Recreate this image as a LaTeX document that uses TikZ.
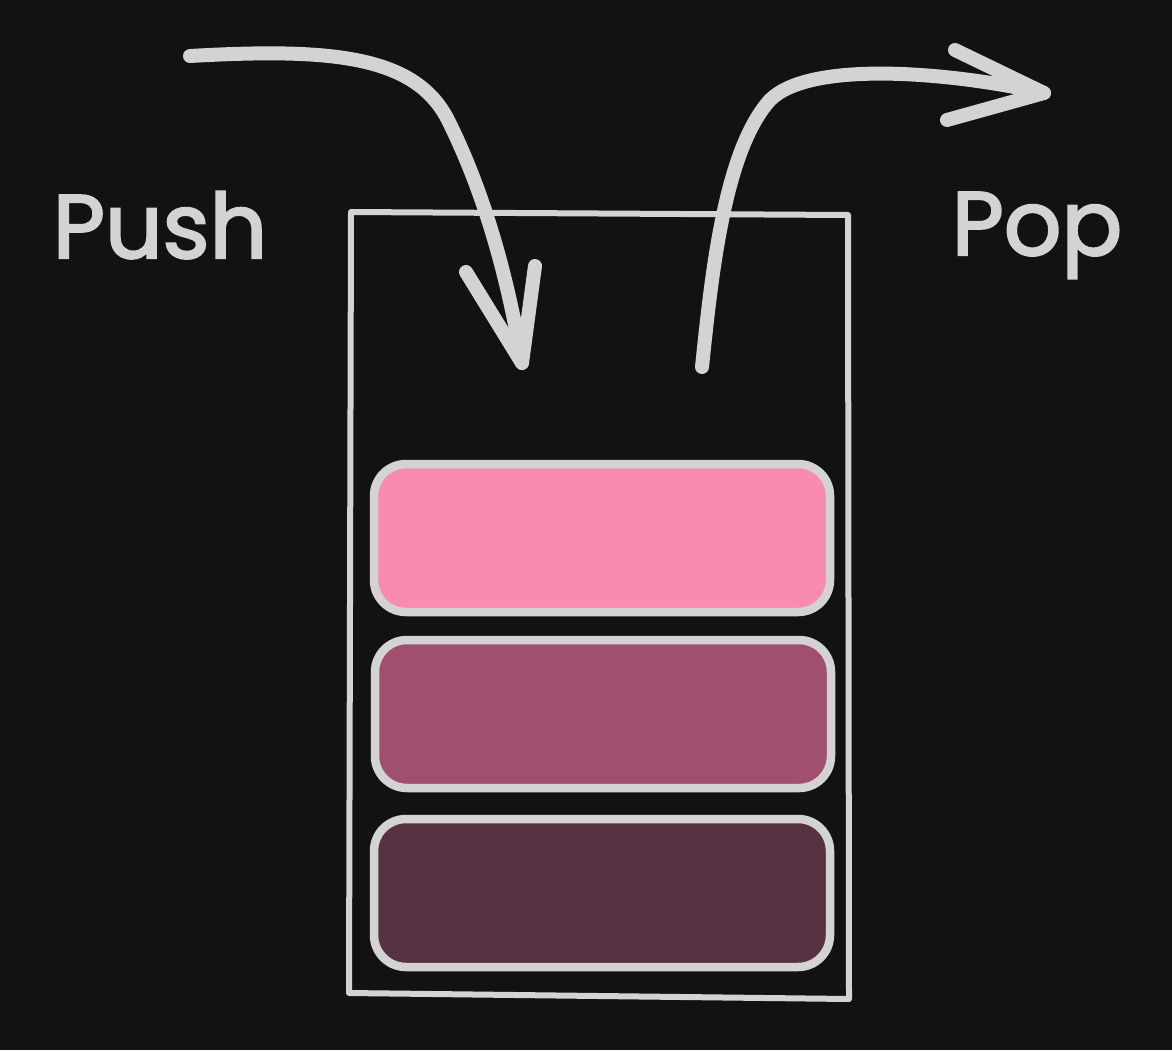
\documentclass[tikz,border=0pt]{standalone}
\usepackage{fontspec}
\setmainfont{Poppins}
\definecolor{bg}{HTML}{121212}
\definecolor{ink}{HTML}{D3D3D3}
\definecolor{pinkA}{HTML}{F98CAE}
\definecolor{pinkB}{HTML}{A0506E}
\definecolor{pinkC}{HTML}{573242}
\begin{document}
\begin{tikzpicture}[x=1pt,y=-1pt,
  item/.style={draw=ink,line width=8.5pt,rounded corners=32pt,minimum width=456pt,minimum height=148pt,inner sep=0pt},
  bigarrow/.style={draw=ink,line width=14pt,line cap=round,line join=round},
  label/.style={text=ink,font=\fontsize{90}{100}\selectfont\addfontfeature{FakeBold=2.5},anchor=base}]
\fill[bg] (0,0) rectangle (1172,1050);
\useasboundingbox (0,0) rectangle (1172,1050);
% container
\draw[ink,line width=6pt,line join=round] (351,212) -- (848,215) -- (849,999) -- (349,993) -- cycle;
\node[item,fill=pinkA] (top) at (602,538) {};
\node[item,fill=pinkB] (mid) at (603,714) {};
\node[item,fill=pinkC] (bot) at (602,893) {};
% labels
\node[label] (push) at (160,258) {Push};
\node[label] (pop) at (1037,255) {Pop};
% push arrow
\coordinate (ps) at (190,56);
\coordinate (pt) at (522,363);
\coordinate (pl) at (466,272);
\coordinate (pr) at (535,266);
\draw[bigarrow] (ps) .. controls (330,48) and (415,55) .. (448,120) .. controls (478,180) and (505,260) .. (pt);
\draw[bigarrow] (pl) -- (pt) -- (pr);
% pop arrow
\coordinate (qs) at (702,367);
\coordinate (qt) at (1044,93);
\coordinate (qa) at (955,50);
\coordinate (qb) at (947,120);
\draw[bigarrow] (qs) .. controls (712,270) and (725,150) .. (770,100) .. controls (810,60) and (950,72) .. (qt);
\draw[bigarrow] (qa) -- (qt) -- (qb);
\end{tikzpicture}
\end{document}
